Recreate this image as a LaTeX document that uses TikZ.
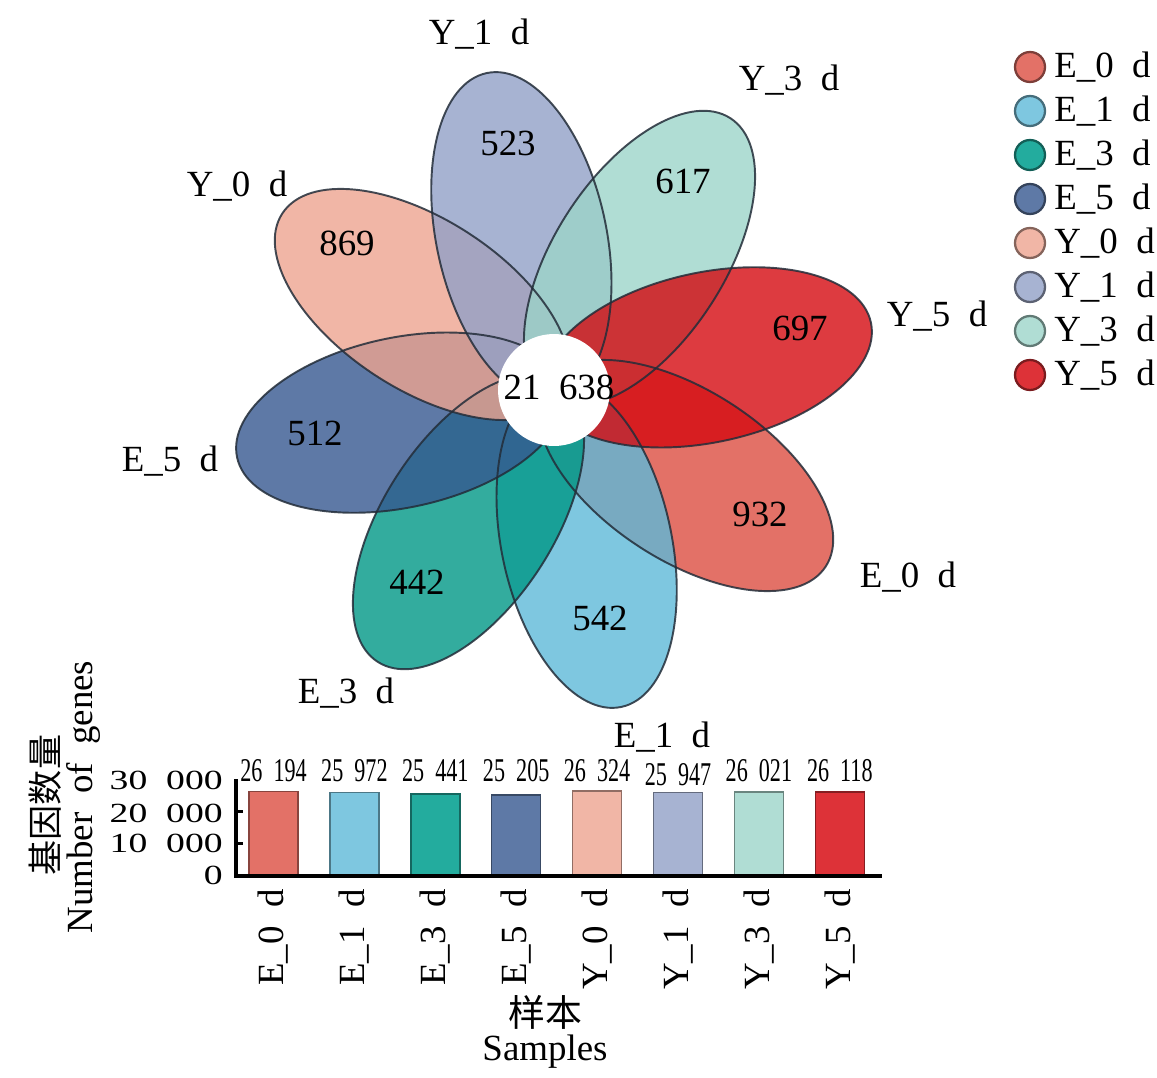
\documentclass[tikz,border=0pt]{standalone}
\usepackage{fontspec}
\usepackage{graphicx}
\setmainfont{Liberation Serif}
\newfontfamily\cjk{Noto Sans CJK SC}
\usetikzlibrary{calc}

% sample colours (legend, bars)
\definecolor{cE0}{RGB}{227,113,103}
\definecolor{cE1}{RGB}{126,199,224}
\definecolor{cE3}{RGB}{35,172,158}
\definecolor{cE5}{RGB}{94,121,166}
\definecolor{cY0}{RGB}{241,182,166}
\definecolor{cY1}{RGB}{167,179,210}
\definecolor{cY3}{RGB}{176,221,212}
\definecolor{cY5}{RGB}{221,50,56}
% petal colours, used with fill opacity 0.8
\definecolor{pE0}{RGB}{220,78,65}
\definecolor{pE1}{RGB}{94,185,216}
\definecolor{pE3}{RGB}{0,151,134}
\definecolor{pE5}{RGB}{54,88,144}
\definecolor{pY0}{RGB}{237,164,144}
\definecolor{pY1}{RGB}{145,160,199}
\definecolor{pY3}{RGB}{156,212,201}
\definecolor{pY5}{RGB}{212,10,16}
\definecolor{edge}{RGB}{35,45,57}

\tikzstyle{petal}=[fill opacity=0.8]
\tikzstyle{rim}=[draw=edge, line width=1.1pt, draw opacity=0.85]
\tikzstyle{annot}=[inner sep=0pt, align=center, font=\fontsize{21}{24}\selectfont]
\tikzstyle{core}=[circle, fill=white, minimum size=2.24cm, inner sep=0pt]
\tikzstyle{dot}=[circle, minimum size=0.6cm, inner sep=0pt, line width=1.3pt]
\tikzstyle{genebar}=[line width=0.9pt]

\newcommand{\drawpetal}[4]
{
  \coordinate (pc#1#2) at ($(C)+({-1*(#3)}:157)$);
  \path[#4, rotate around={#3:(pc#1#2)}] (pc#1#2) ellipse [x radius=167, y radius=85];
}
\newcommand{\drawlegend}[3]
{
  \node[dot, fill=c#1#2, draw=c#1#2!55!black] (dot#1#2) at (1030,#3) {};
  \node[annot, anchor=west] (leg#1#2) at (1054,#3) {#1\_#2\enspace d};
}
% value in thousands of genes
\newcommand{\drawbar}[6]
{
  \draw[genebar, fill=c#1#2, draw=c#1#2!60!black] ({#3-24.5},876) rectangle ({#3+24.5},{876-3.22*#4});
  \node[annot] (val#1#2) at (#3,#6) {\scalebox{0.6}[0.9]{#5}};
  \node[annot, rotate=90, anchor=east] (lab#1#2) at (#3,889) {#1\_#2\enspace d};
}

\begin{document}
\begin{tikzpicture}[x=0.02cm, y=-0.02cm]
	\useasboundingbox (0,0) rectangle (1157,1078);
	\coordinate (C) at (554,390);

	% flower: fills first, outlines on top
	\drawpetal{E}{0}{-33}{petal, fill=pE0}
	\drawpetal{E}{1}{-78}{petal, fill=pE1}
	\drawpetal{E}{3}{-123}{petal, fill=pE3}
	\drawpetal{E}{5}{-168}{petal, fill=pE5}
	\drawpetal{Y}{0}{147}{petal, fill=pY0}
	\drawpetal{Y}{1}{102}{petal, fill=pY1}
	\drawpetal{Y}{3}{57}{petal, fill=pY3}
	\drawpetal{Y}{5}{12}{petal, fill=pY5}
	\drawpetal{E}{0}{-33}{rim}
	\drawpetal{E}{1}{-78}{rim}
	\drawpetal{E}{3}{-123}{rim}
	\drawpetal{E}{5}{-168}{rim}
	\drawpetal{Y}{0}{147}{rim}
	\drawpetal{Y}{1}{102}{rim}
	\drawpetal{Y}{3}{57}{rim}
	\drawpetal{Y}{5}{12}{rim}
	\node[core] (core) at (C) {};
	\node[annot] (total) at (559,387) {21\enspace638};

	\node[annot] (nE0) at (760,514) {932};
	\node[annot] (nE1) at (600,618) {542};
	\node[annot] (nE3) at (417,582) {442};
	\node[annot] (nE5) at (315,433) {512};
	\node[annot] (nY0) at (347,243) {869};
	\node[annot] (nY1) at (508,143) {523};
	\node[annot] (nY3) at (683,181) {617};
	\node[annot] (nY5) at (800,328) {697};

	\node[annot] (sE0) at (908,577) {E\_0\enspace d};
	\node[annot] (sE1) at (662,737) {E\_1\enspace d};
	\node[annot] (sE3) at (346,693) {E\_3\enspace d};
	\node[annot] (sE5) at (170,461) {E\_5\enspace d};
	\node[annot] (sY0) at (237,186) {Y\_0\enspace d};
	\node[annot] (sY1) at (479,34) {Y\_1\enspace d};
	\node[annot] (sY3) at (789,80) {Y\_3\enspace d};
	\node[annot] (sY5) at (937,316) {Y\_5\enspace d};

	% legend
	\drawlegend{E}{0}{67}
	\drawlegend{E}{1}{111}
	\drawlegend{E}{3}{155}
	\drawlegend{E}{5}{199}
	\drawlegend{Y}{0}{243}
	\drawlegend{Y}{1}{287}
	\drawlegend{Y}{3}{331}
	\drawlegend{Y}{5}{375}

	% bar chart
	\drawbar{E}{0}{273.5}{26.194}{26\enspace194}{771}
	\drawbar{E}{1}{354.4}{25.972}{25\enspace972}{771}
	\drawbar{E}{3}{435.3}{25.441}{25\enspace441}{771}
	\drawbar{E}{5}{516.2}{25.205}{25\enspace205}{771}
	\drawbar{Y}{0}{597.1}{26.324}{26\enspace324}{771}
	\drawbar{Y}{1}{678.0}{25.947}{25\enspace947}{775}
	\drawbar{Y}{3}{758.9}{26.021}{26\enspace021}{771}
	\drawbar{Y}{5}{839.8}{26.118}{26\enspace118}{771}

	\coordinate (origin) at (236,876);
	\coordinate (ytop) at (236,779);
	\coordinate (xend) at (882,876);
	\coordinate (t1) at (236,843.8);
	\coordinate (t2) at (236,811.6);
	\draw[line width=1.8pt] (ytop) -- (origin);
	\draw[line width=2.4pt] ([xshift=-0.9pt]origin) -- (xend);
	\draw[line width=1.8pt] (t1) -- ++(7,0);
	\draw[line width=1.8pt] (t2) -- ++(7,0);

	\node[annot, anchor=east] (y30) at (223,780) {\scalebox{1.02}[0.75]{30\enspace000}};
	\node[annot, anchor=east] (y20) at (223,813) {\scalebox{1.02}[0.75]{20\enspace000}};
	\node[annot, anchor=east] (y10) at (223,843) {\scalebox{1.02}[0.75]{10\enspace000}};
	\node[annot, anchor=east] (y0) at (223,875) {\scalebox{1.02}[0.75]{0}};

	\node[annot, rotate=90] (ycn) at (45,805) {\cjk\fontsize{20}{22}\selectfont 基因数量};
	\node[annot, rotate=90] (yen) at (83,797) {Number\enspace of\enspace genes};
	\node[annot] (xcn) at (545,1012) {\cjk 样本};
	\node[annot] (xen) at (545,1052) {Samples};
\end{tikzpicture}
\end{document}
